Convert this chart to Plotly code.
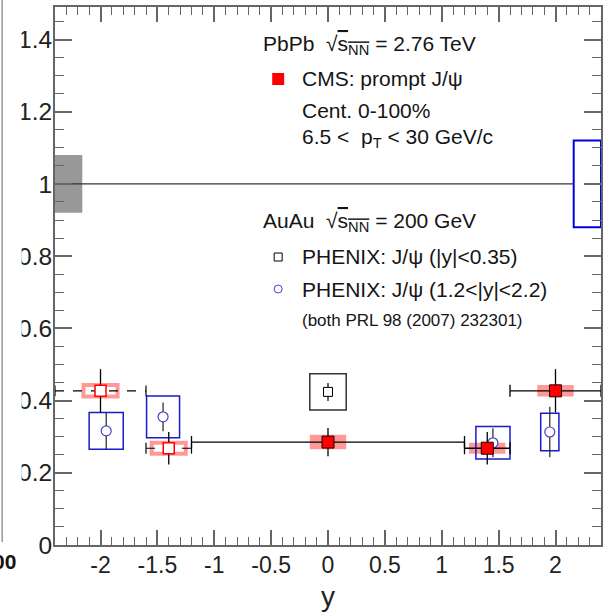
import plotly.graph_objects as go

# ---------------------------------------------------------------------------
# CMS prompt J/psi nuclear modification factor vs rapidity, PbPb 2.76 TeV
# (measured bins; the forward bins are also reflected to negative rapidity)
cms_y_center = [0.0, 1.4, 2.0]
cms_y_low = [-1.2, 1.2, 1.6]
cms_y_high = [1.2, 1.6, 2.4]
cms_raa = [0.285, 0.268, 0.427]
cms_stat = [0.039, 0.045, 0.060]
cms_syst = [0.020, 0.015, 0.016]
cms_box_halfwidth = 0.16
cms_reflected_bins = [2, 1]          # 1.6<|y|<2.4 and 1.2<|y|<1.6

# PHENIX J/psi R_AA, AuAu 200 GeV, |y|<0.35
phx_mid_y = [0.0]
phx_mid_raa = [0.424]
phx_mid_stat = [0.025]
phx_mid_syst = [0.050]
phx_mid_halfwidth = [0.16]

# PHENIX J/psi R_AA, AuAu 200 GeV, 1.2<|y|<2.2
phx_fwd_y = [-1.95, -1.45, 1.45, 1.95]
phx_fwd_raa = [0.316, 0.355, 0.283, 0.313]
phx_fwd_stat = [0.050, 0.040, 0.040, 0.070]
phx_fwd_syst = [0.051, 0.058, 0.045, 0.052]
phx_fwd_halfwidth = [0.15, 0.145, 0.15, 0.08]

# global (normalisation) uncertainties drawn at unity
cms_global = 0.08
phx_global = 0.12
global_box_width = 0.24

x_range = [-2.4, 2.4]
y_range = [0.0, 1.49]
x_tick_vals = [-2, -1.5, -1, -0.5, 0, 0.5, 1, 1.5, 2]
x_tick_text = ["-2", "-1.5", "-1", "-0.5", "0", "0.5", "1", "1.5", "2"]

# ---------------------------------------------------------------------------
W, H = 608, 613
ML, MR, MT, MB = 55, 5, 7, 68
FONT = "Liberation Sans, Arial, Helvetica, sans-serif"
PINK = "rgba(255,0,0,0.40)"
BLUE = "#1a1acc"
AXIS = "#666666"


def px(x):
    return (x - ML) / (W - ML - MR)


def py(y):
    return (H - MB - y) / (H - MT - MB)


fig = go.Figure()
shapes = []

# global uncertainty boxes
shapes.append(dict(type="rect", xref="x", yref="y", layer="below",
                   x0=x_range[0], x1=x_range[0] + global_box_width,
                   y0=1 - cms_global, y1=1 + cms_global,
                   fillcolor="#999999", line=dict(width=0)))
shapes.append(dict(type="rect", xref="x", yref="y", layer="below",
                   x0=x_range[1] - global_box_width, x1=x_range[1],
                   y0=1 - phx_global, y1=1 + phx_global,
                   fillcolor="rgba(0,0,0,0)", line=dict(color="#0000dd", width=2)))

# CMS systematic boxes (filled) for the measured bins
for xc, v, s in zip(cms_y_center, cms_raa, cms_syst):
    shapes.append(dict(type="rect", xref="x", yref="y", layer="below",
                       x0=xc - cms_box_halfwidth, x1=xc + cms_box_halfwidth,
                       y0=v - s, y1=v + s, fillcolor=PINK, line=dict(width=0)))

# reflected bins: open boxes
refl_x = [-cms_y_center[i] for i in cms_reflected_bins]
refl_lo = [-cms_y_high[i] for i in cms_reflected_bins]
refl_hi = [-cms_y_low[i] for i in cms_reflected_bins]
refl_v = [cms_raa[i] for i in cms_reflected_bins]
refl_stat = [cms_stat[i] for i in cms_reflected_bins]
refl_syst = [cms_syst[i] for i in cms_reflected_bins]
for xc, v, s in zip(refl_x, refl_v, refl_syst):
    shapes.append(dict(type="rect", xref="x", yref="y", layer="below",
                       x0=xc - cms_box_halfwidth + 0.01, x1=xc + cms_box_halfwidth - 0.01,
                       y0=v - s, y1=v + s, fillcolor="rgba(0,0,0,0)",
                       line=dict(color=PINK, width=4)))

# PHENIX systematic boxes
for xc, v, s, hw in zip(phx_mid_y, phx_mid_raa, phx_mid_syst, phx_mid_halfwidth):
    shapes.append(dict(type="rect", xref="x", yref="y", layer="below",
                       x0=xc - hw, x1=xc + hw, y0=v - s, y1=v + s,
                       line=dict(color="#333333", width=1.5)))
for xc, v, s, hw in zip(phx_fwd_y, phx_fwd_raa, phx_fwd_syst, phx_fwd_halfwidth):
    shapes.append(dict(type="rect", xref="x", yref="y", layer="below",
                       x0=xc - hw, x1=xc + hw, y0=v - s, y1=v + s,
                       line=dict(color=BLUE, width=1.5)))

# reference line at unity, up to the PHENIX global box
fig.add_trace(go.Scatter(x=[x_range[0], x_range[1] - global_box_width], y=[1, 1],
                         mode="lines", line=dict(color="#333333", width=1.2),
                         hoverinfo="skip", showlegend=False))

# dashed rapidity extent of the reflected bins, with end ticks
dash_x, dash_y, cap_x, cap_y = [], [], [], []
cap = 0.015
for lo, hi, v in zip(refl_lo, refl_hi, refl_v):
    dash_x += [lo, hi, None]
    dash_y += [v, v, None]
    for e in (lo, hi):
        cap_x += [e, e, None]
        cap_y += [v - cap, v + cap, None]
fig.add_trace(go.Scatter(x=dash_x, y=dash_y, mode="lines",
                         line=dict(color="black", width=1.2, dash="dash"),
                         hoverinfo="skip", showlegend=False))
fig.add_trace(go.Scatter(x=cap_x, y=cap_y, mode="lines",
                         line=dict(color="black", width=1.2),
                         hoverinfo="skip", showlegend=False))

# PHENIX points
fig.add_trace(go.Scatter(
    x=phx_mid_y, y=phx_mid_raa, mode="markers",
    marker=dict(symbol="square", size=9, color="white", line=dict(color="black", width=1)),
    error_y=dict(type="data", array=phx_mid_stat, color="black", thickness=1.2, width=0),
    showlegend=False))
fig.add_trace(go.Scatter(
    x=phx_fwd_y, y=phx_fwd_raa, mode="markers",
    marker=dict(symbol="circle", size=10, color="white", line=dict(color="#4444cc", width=1.2)),
    error_y=dict(type="data", array=phx_fwd_stat, color="#222222", thickness=1.2, width=0),
    showlegend=False))

# CMS reflected (open) points
fig.add_trace(go.Scatter(
    x=refl_x, y=refl_v, mode="markers",
    marker=dict(symbol="square", size=11, color="white", line=dict(color="red", width=1.5)),
    error_y=dict(type="data", array=refl_stat, color="black", thickness=1.3, width=0),
    showlegend=False))

# CMS measured points
fig.add_trace(go.Scatter(
    x=cms_y_center, y=cms_raa, mode="markers",
    marker=dict(symbol="square", size=12, color="red", line=dict(color="#220000", width=1)),
    error_y=dict(type="data", array=cms_stat, color="black", thickness=1.3, width=0),
    error_x=dict(type="data",
                 array=[h - c for h, c in zip(cms_y_high, cms_y_center)],
                 arrayminus=[c - l for c, l in zip(cms_y_center, cms_y_low)],
                 color="black", thickness=1.3, width=6),
    showlegend=False))

# legend keys
shapes.append(dict(type="rect", xref="paper", yref="paper", layer="above",
                   x0=px(273), x1=px(285), y0=py(85), y1=py(73),
                   fillcolor="red", line=dict(width=0)))
shapes.append(dict(type="rect", xref="paper", yref="paper", layer="above",
                   x0=px(275), x1=px(283), y0=py(261), y1=py(253),
                   fillcolor="white", line=dict(color="black", width=1)))
shapes.append(dict(type="circle", xref="paper", yref="paper", layer="above",
                   x0=px(275), x1=px(283), y0=py(293), y1=py(285),
                   fillcolor="white", line=dict(color="#4444cc", width=1)))

# neighbouring pad edge on the left
shapes.append(dict(type="rect", xref="paper", yref="paper", layer="above",
                   x0=px(-2), x1=px(21.5), y0=py(541), y1=py(-2),
                   fillcolor="white", line=dict(width=0)))
shapes.append(dict(type="line", xref="paper", yref="paper", layer="above",
                   x0=px(2), x1=px(2), y0=py(542), y1=py(-2),
                   line=dict(color="#9a9a9a", width=1.5)))

SQRT = "\u221a<span style='text-decoration:overline'>s<sub>NN</sub></span>"
texts = [
    (262, 45, "PbPb  " + SQRT + " = 2.76 TeV", 21),
    (301, 78, "CMS: prompt J/\u03c8", 21),
    (301, 110, "Cent. 0-100%", 21),
    (301, 138, "6.5 <  p<sub>T</sub> < 30 GeV/c", 21),
    (262, 222, "AuAu  " + SQRT + " = 200 GeV", 21),
    (301, 256, "PHENIX: J/\u03c8 (|y|<0.35)", 21),
    (301, 289, "PHENIX: J/\u03c8 (1.2<|y|<2.2)", 21),
    (301, 320, "(both PRL 98 (2007) 232301)", 17),
]
annotations = []
for x, y, t, s in texts:
    annotations.append(dict(x=px(x), y=py(y), xref="paper", yref="paper",
                            xanchor="left", yanchor="middle", showarrow=False,
                            text=t, font=dict(family=FONT, size=s, color="#151515")))
annotations.append(dict(x=px(18), y=py(561), xref="paper", yref="paper",
                        xanchor="right", yanchor="middle", showarrow=False,
                        text="<b>00</b>", font=dict(family=FONT, size=21, color="#151515")))

fig.update_layout(
    width=W, height=H,
    margin=dict(l=ML, r=MR, t=MT, b=MB, pad=0),
    paper_bgcolor="white", plot_bgcolor="white",
    shapes=shapes, annotations=annotations,
    font=dict(family=FONT, color="#222222"),
    xaxis=dict(range=x_range, showgrid=False, zeroline=False,
               showline=True, linecolor=AXIS, linewidth=2, mirror="allticks",
               ticks="inside", ticklen=15, tickwidth=1.5, tickcolor=AXIS,
               tickmode="array", tickvals=x_tick_vals, ticktext=x_tick_text,
               ticklabelstandoff=-2,
               tickfont=dict(family=FONT, size=23, color="#222222"),
               minor=dict(ticks="inside", ticklen=8, tickwidth=1.2, tickcolor=AXIS,
                          dtick=0.1, tick0=0, showgrid=False),
               title=dict(text="y", font=dict(family=FONT, size=28, color="#222222"),
                          standoff=10)),
    yaxis=dict(range=y_range, showgrid=False, zeroline=False,
               showline=True, linecolor=AXIS, linewidth=2, mirror="allticks",
               ticks="inside", ticklen=17, tickwidth=1.5, tickcolor=AXIS,
               dtick=0.2, tick0=0, ticklabelstandoff=-4,
               tickfont=dict(family=FONT, size=24.5, color="#222222"),
               minor=dict(ticks="inside", ticklen=9, tickwidth=1.2, tickcolor=AXIS,
                          dtick=0.05, tick0=0, showgrid=False)),
)

fig.write_html("out.html")
